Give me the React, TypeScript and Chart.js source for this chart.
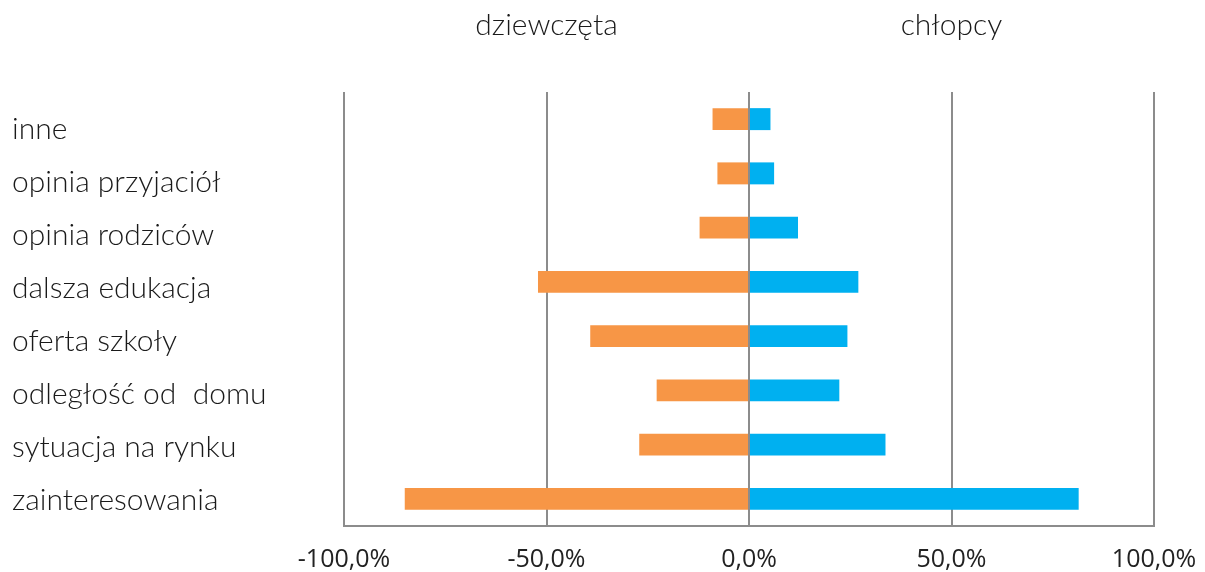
import React, { useEffect, useRef } from "react";
import { Chart, registerables } from "chart.js";

Chart.register(...registerables);

const categories = [
  "inne",
  "opinia przyjaciół",
  "opinia rodziców",
  "dalsza edukacja",
  "oferta szkoły",
  "odległość od  domu",
  "sytuacja na rynku",
  "zainteresowania",
];

const girls = [-9.0, -7.8, -12.2, -52.1, -39.2, -22.8, -27.1, -85.0];
const boys = [5.3, 6.2, 12.1, 27.0, 24.3, 22.3, 33.7, 81.4];

const seriesNames = ["dziewczęta", "chłopcy"];
const headerValues = [-50, 50];

const xTicks = [-100, -50, 0, 50, 100];

const labelFont = "Lato";

const headerPlugin = {
  id: "headers",
  afterDraw(chart: any) {
    const ctx = chart.ctx;
    const xs = chart.scales.x;
    ctx.save();
    ctx.font = `300 30px ${labelFont}`;
    ctx.fillStyle = "#1a1a1a";
    ctx.textAlign = "center";
    ctx.textBaseline = "middle";
    seriesNames.forEach((name, i) => {
      ctx.fillText(name, xs.getPixelForValue(headerValues[i]), 25);
    });
    ctx.restore();
  },
};

export default function App() {
  const canvasRef = useRef<HTMLCanvasElement | null>(null);

  useEffect(() => {
    document.body.style.margin = "0";
    const canvas = canvasRef.current;
    if (!canvas) return;
    const chart = new Chart(canvas, {
      type: "bar",
      data: {
        labels: categories,
        datasets: [
          {
            label: seriesNames[0],
            data: girls,
            backgroundColor: "#F79646",
            borderWidth: 0,
            categoryPercentage: 1,
            barPercentage: 0.405,
          },
          {
            label: seriesNames[1],
            data: boys,
            backgroundColor: "#00B0F0",
            borderWidth: 0,
            categoryPercentage: 1,
            barPercentage: 0.405,
          },
        ],
      },
      options: {
        indexAxis: "y",
        responsive: false,
        animation: false,
        layout: {
          autoPadding: false,
          padding: { left: 12, right: 51, top: 92, bottom: 0 },
        },
        plugins: {
          legend: { display: false },
          tooltip: { enabled: false },
        },
        scales: {
          x: {
            type: "linear",
            stacked: true,
            min: -100,
            max: 100,
            afterBuildTicks(scale: any) {
              scale.ticks = xTicks.map((v) => ({ value: v }));
            },
            afterFit(scale: any) {
              scale.height = 46;
              scale.paddingLeft = 0;
              scale.paddingRight = 0;
            },
            grid: {
              color: "#8c8c8c",
              lineWidth: 2,
              drawTicks: false,
            },
            border: { display: true, color: "#8c8c8c", width: 2 },
            ticks: {
              padding: 19,
              color: "#222222",
              font: { family: "Open Sans", size: 25 },
              maxRotation: 0,
              callback: (v: any) => Number(v).toFixed(1).replace(".", ",") + "%",
            },
          },
          y: {
            type: "category",
            stacked: true,
            display: false,
          },
          yl: {
            type: "linear",
            position: "left",
            reverse: true,
            offset: false,
            min: -0.7076,
            max: 7.481,
            afterBuildTicks(scale: any) {
              scale.ticks = categories.map((_, i) => ({ value: i }));
            },
            afterFit(scale: any) {
              scale.width = 332;
            },
            grid: { display: false, drawTicks: false },
            border: { display: false },
            ticks: {
              crossAlign: "far",
              padding: 0,
              color: "#1a1a1a",
              autoSkip: false,
              font: { family: labelFont, size: 30, weight: "300" },
              callback: (v: any) => categories[Math.round(Number(v))] ?? "",
            },
          },
        },
      },
      plugins: [headerPlugin],
    } as any);
    return () => chart.destroy();
  }, []);

  return (
    <div style={{ width: 1205, height: 572 }}>
      <canvas ref={canvasRef} width={1205} height={572} />
    </div>
  );
}
